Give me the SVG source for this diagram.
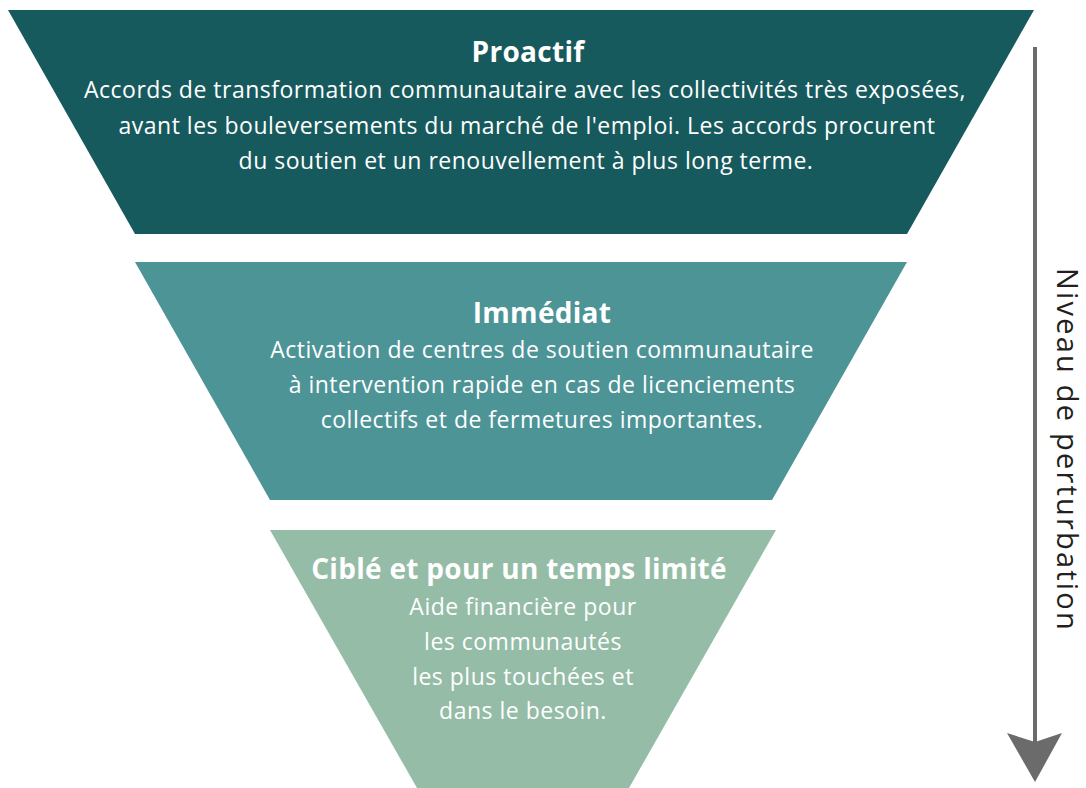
<svg xmlns="http://www.w3.org/2000/svg" width="1086" height="788" viewBox="0 0 1086 788">
<defs>
<style>
.t{font-family:"Open Sans","Liberation Sans",sans-serif;fill:#ffffff;text-anchor:middle}
.h{font-size:28px;font-weight:bold;letter-spacing:0.3px}
.b{font-size:23px;letter-spacing:0.5px}
.v{font-family:"Open Sans","Liberation Sans",sans-serif;font-size:29px;letter-spacing:2.2px;fill:#231f20;text-anchor:middle}
</style>
</defs>
<rect width="1086" height="788" fill="#ffffff"/>
<g id="proactif">
<polygon points="8,10 1034,10 907,234 135,234" fill="#175a5e"/>
<text class="t h" x="528" y="62">Proactif</text>
<text class="t b" x="525" y="98">Accords de transformation communautaire avec les collectivités très exposées,</text>
<text class="t b" x="527" y="134">avant les bouleversements du marché de l'emploi. Les accords procurent</text>
<text class="t b" x="526" y="169">du soutien et un renouvellement à plus long terme.</text>
</g>
<g id="immediat">
<polygon points="135,262 907,262 772,500 270,500" fill="#4d9497"/>
<text class="t h" x="542" y="323">Immédiat</text>
<text class="t b" x="542" y="358">Activation de centres de soutien communautaire</text>
<text class="t b" x="542" y="393">à intervention rapide en cas de licenciements</text>
<text class="t b" x="542" y="428">collectifs et de fermetures importantes.</text>
</g>
<g id="cible">
<polygon points="270,530 776,530 629,788 417,788" fill="#94bca7"/>
<text class="t h" x="519" y="579">Ciblé et pour un temps limité</text>
<text class="t b" x="523" y="615">Aide financière pour</text>
<text class="t b" x="523" y="650">les communautés</text>
<text class="t b" x="523" y="685">les plus touchées et</text>
<text class="t b" x="523" y="719">dans le besoin.</text>
</g>
<g id="connectors">
<line x1="1035" y1="47" x2="1035" y2="745" stroke="#6b6b6b" stroke-width="4"/>
<polygon points="1007,733 1035,742 1062,733 1035,782" fill="#6b6b6b"/>
</g>
<g id="axis-label">
<text class="v" transform="translate(1057,450) rotate(90)">Niveau de perturbation</text>
</g>
</svg>
